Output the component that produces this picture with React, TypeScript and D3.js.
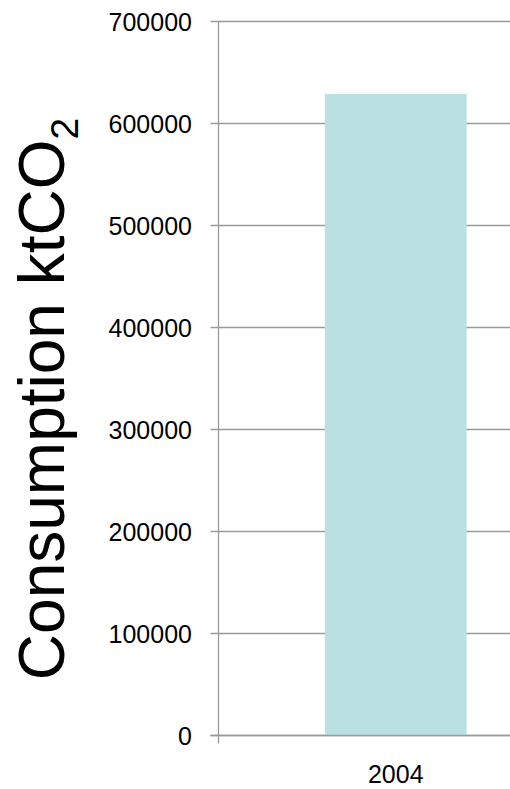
import React from "react";
import * as d3 from "d3";

const categories: string[] = ["2004"];
const consumption: number[] = [629000];
const yTicks: number[] = [0, 100000, 200000, 300000, 400000, 500000, 600000, 700000];

const W = 510;
const H = 789;
const plotLeft = 218.5;
const plotRight = 573;
const plotTop = 21.5;
const plotBottom = 735.5;

export default function App() {
  const x = d3.scaleBand<string>().domain(categories).range([plotLeft, plotRight]).paddingInner(0.6).paddingOuter(0.3);
  const y = d3.scaleLinear().domain([0, 700000]).range([plotBottom, plotTop]);
  const font = "'Liberation Sans', Arial, sans-serif";
  const grid = "#9a9a9a";

  return (
    <svg width={W} height={H} style={{ position: "absolute", left: 0, top: 0 }} fontFamily={font}>
      <rect width={W} height={H} fill="#fff" />
      {yTicks.map((t) => (
        <g key={t}>
          <line x1={plotLeft - 8} x2={plotRight} y1={y(t)} y2={y(t)} stroke={grid} strokeWidth={1.3} />
          <text x={192} y={y(t)} dy="0.36em" textAnchor="end" fontSize={25} fill="#000">
            {t}
          </text>
        </g>
      ))}
      {categories.map((c, i) => (
        <rect key={c} x={x(c)} y={y(consumption[i])} width={x.bandwidth()} height={y(0) - y(consumption[i])} fill="#bae0e3" />
      ))}
      <line x1={plotLeft} x2={plotLeft} y1={plotTop} y2={plotBottom + 8} stroke={grid} strokeWidth={1.3} />
      <line x1={plotLeft - 8} x2={plotRight} y1={plotBottom} y2={plotBottom} stroke={grid} strokeWidth={1.3} />
      {categories.map((c) => (
        <text key={c} x={(x(c) as number) + x.bandwidth() / 2} y={783} textAnchor="middle" fontSize={25} fill="#000">
          {c}
        </text>
      ))}
      <text transform={`translate(64,399) rotate(-90)`} textAnchor="middle" fontSize={64} fill="#000">
        Consumption ktCO
        <tspan fontSize={39} dy={14}>2</tspan>
      </text>
    </svg>
  );
}
